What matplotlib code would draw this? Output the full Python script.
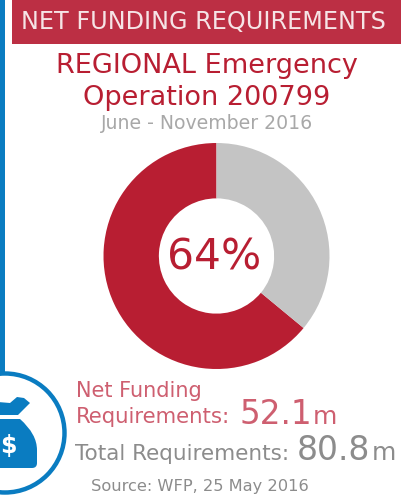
import matplotlib
matplotlib.use("Agg")
import matplotlib.pyplot as plt
from matplotlib.patches import Rectangle, Circle, PathPatch
from matplotlib.path import Path

# data
share_labels = ["Net Funding Requirements", "Rest of Total Requirements"]
share_values = [64, 36]
share_colors = ["#B81E32", "#C4C4C4"]
net_funding = "52.1"
total_req = "80.8"

RED = "#B81E32"
BANNER = "#BC2F44"
SOFT_RED = "#CE5F70"
GREY = "#8C8C8C"
LIGHT_GREY = "#A8A8A8"
BLUE = "#0A7CC1"

plt.rcParams["font.family"] = ["DejaVu Sans"]

W, H = 401, 500
fig = plt.figure(figsize=(W / 100, H / 100), dpi=100)

# background axes in pixel coordinates, y going down
bg = fig.add_axes([0, 0, 1, 1])
bg.set_xlim(0, W)
bg.set_ylim(H, 0)
bg.axis("off")

# blue side bar, money bag badge
bg.add_patch(Rectangle((0, 0), 5, 374, color=BLUE, lw=0))
bg.add_patch(Circle((5, 433), 59.5, fill=False, ec=BLUE, lw=3.2))

neck = Path(
    [(-2, 402), (10, 403), (17, 397), (24, 398), (30, 403), (24, 409), (18, 415), (-2, 415), (-2, 402)],
    [Path.MOVETO, Path.LINETO, Path.LINETO, Path.LINETO, Path.LINETO, Path.LINETO, Path.LINETO,
     Path.LINETO, Path.CLOSEPOLY],
)
body = Path(
    [(-2, 419), (20, 419), (37, 434), (37, 450), (37, 463), (37, 468), (32, 468), (-2, 468), (-2, 419)],
    [Path.MOVETO, Path.LINETO, Path.CURVE3, Path.CURVE3, Path.LINETO, Path.CURVE3, Path.CURVE3,
     Path.LINETO, Path.CLOSEPOLY],
)
bg.add_patch(PathPatch(neck, fc=BLUE, ec="none"))
bg.add_patch(PathPatch(body, fc=BLUE, ec="none"))
bg.text(8.5, 446, "$", color="white", fontsize=17, fontweight="bold", ha="center", va="center")

# banner
bg.add_patch(Rectangle((12, 0), W - 12, 44, color=BANNER, lw=0))
bg.text(21, 29, "NET FUNDING REQUIREMENTS", color="#F6E4E6", fontsize=17.2, ha="left", va="baseline")

# titles
bg.text(207, 73, "REGIONAL Emergency", color=RED, fontsize=19.5, ha="center", va="baseline")
bg.text(207, 105, "Operation 200799", color=RED, fontsize=19.5, ha="center", va="baseline")
bg.text(207, 129, "June - November 2016", color=LIGHT_GREY, fontsize=13.6, ha="center", va="baseline")

# donut
ax = fig.add_axes([103.5 / W, 1 - 369 / H, 226 / W, 226 / H])
ax.pie(share_values, colors=share_colors, startangle=90, counterclock=True, radius=1,
       wedgeprops={"width": 0.49, "linewidth": 0})
ax.set_xlim(-1, 1)
ax.set_ylim(-1, 1)
bg.text(214, 270, f"{share_values[0]}%", color=RED, fontsize=30.5, ha="center", va="baseline", zorder=5)
ax.set_zorder(-1)

# figures below
bg.text(76, 397, "Net Funding", color=SOFT_RED, fontsize=15, ha="left", va="baseline")
bg.text(76, 423, "Requirements:", color=SOFT_RED, fontsize=15.3, ha="left", va="baseline")
bg.text(239, 424, net_funding, color=SOFT_RED, fontsize=23.5, ha="left", va="baseline")
bg.text(313, 424, "m", color=SOFT_RED, fontsize=18, ha="left", va="baseline")

bg.text(75, 460, "Total Requirements:", color=GREY, fontsize=15.5, ha="left", va="baseline")
bg.text(297, 460, total_req, color=GREY, fontsize=23.8, ha="left", va="baseline")
bg.text(372, 460, "m", color=GREY, fontsize=18, ha="left", va="baseline")

bg.text(91, 491, "Source: WFP, 25 May 2016", color=GREY, fontsize=11.7, ha="left", va="baseline")

bg.patch.set_alpha(0)
fig.savefig("out.png", dpi=100)
